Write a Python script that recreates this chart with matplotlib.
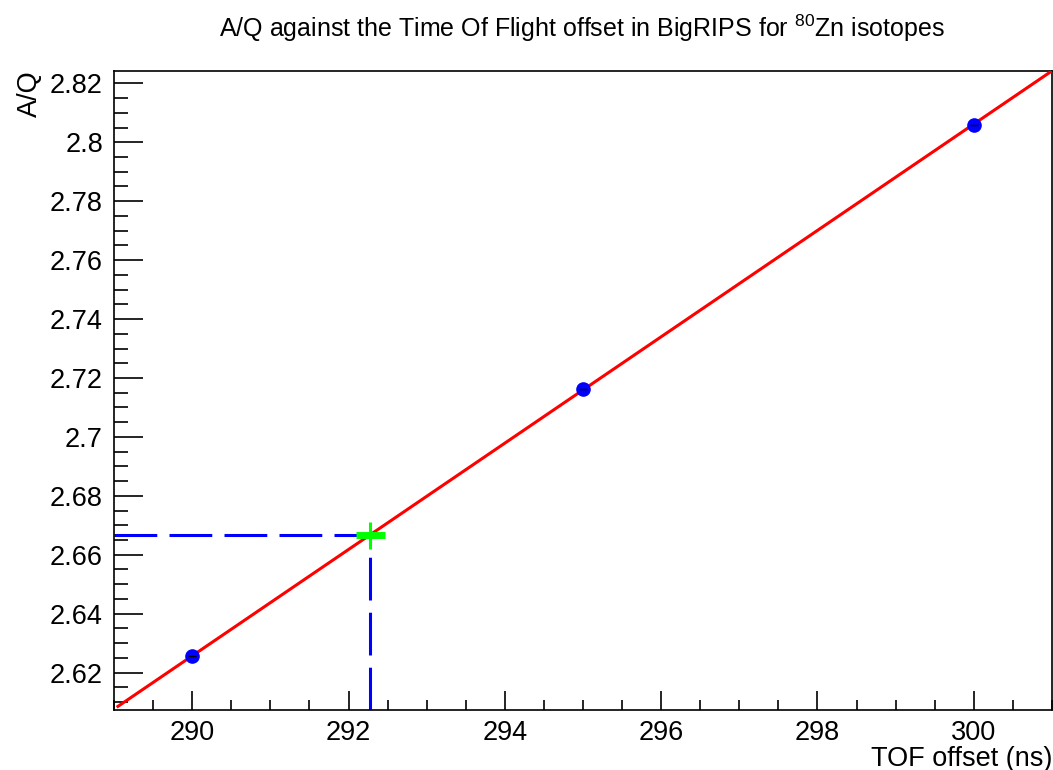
#!/usr/bin/env python3
# A/Q vs TOF offset calibration, ROOT-like look
import matplotlib
matplotlib.use("Agg")
import matplotlib.pyplot as plt
import numpy as np
from matplotlib.ticker import MultipleLocator

plt.rcParams['font.family'] = ['Liberation Sans', 'DejaVu Sans']
plt.rcParams['mathtext.fontset'] = 'custom'
plt.rcParams['mathtext.rm'] = 'Liberation Sans'
plt.rcParams['mathtext.it'] = 'Liberation Sans'

# calibration points
tof = [290.0, 295.0, 300.0]
aoq = [2.6255, 2.7163, 2.806]
tof_err = [0.05, 0.05, 0.05]

# fitted line range
fit_x = [289.05, 301.0]

# interpolated value for 80Zn
zn_tof = 292.28
zn_aoq = 2.6666
zn_tof_err = 0.19
zn_aoq_err = 0.0045

xlim = (289.0, 301.0)
ylim = (2.6073, 2.8243)

fig = plt.figure(figsize=(10.53, 7.70), dpi=100)
ax = fig.add_axes([0.1083, 0.0779, 0.8907, 0.8303])

# linear fit through the points
p = np.polyfit(tof, aoq, 1)
fx = np.array(fit_x)
ax.plot(fx, np.polyval(p, fx), color='#ff0000', lw=2.2, zorder=3)

# dashed guide lines
ax.plot([xlim[0], zn_tof], [zn_aoq, zn_aoq], color='#0000ff', lw=2.2,
        dashes=(14, 4), zorder=2)
ax.plot([zn_tof, zn_tof], [ylim[0], zn_aoq], color='#0000ff', lw=2.2,
        dashes=(14, 4), zorder=2)

# data points
ax.plot(tof, aoq, 'o', color='#0000ff', ms=9.5, zorder=4)
ax.errorbar(tof, aoq, xerr=tof_err, fmt='none', ecolor='black', elinewidth=1, zorder=5)

# green cross
ax.errorbar([zn_tof], [zn_aoq], xerr=[zn_tof_err], fmt='none', ecolor='#00ff00',
            elinewidth=5, capsize=0, zorder=6)
ax.errorbar([zn_tof], [zn_aoq], yerr=[zn_aoq_err], fmt='none', ecolor='#00ff00',
            elinewidth=2.2, capsize=0, zorder=6)

ax.set_xlim(*xlim)
ax.set_ylim(*ylim)
ax.xaxis.set_major_locator(MultipleLocator(2))
ax.xaxis.set_minor_locator(MultipleLocator(0.5))
ax.yaxis.set_major_locator(MultipleLocator(0.02))
ax.yaxis.set_minor_locator(MultipleLocator(0.005))
ax.yaxis.set_major_formatter(plt.FuncFormatter(lambda v, _: ('%.2f' % v).rstrip('0').rstrip('.')))

ax.tick_params(which='both', direction='in', top=False, right=False, labelsize=19.5, width=1.2)
ax.tick_params(axis='x', which='major', length=14, pad=7)
ax.tick_params(axis='x', which='minor', length=7)
ax.tick_params(axis='y', which='major', length=21, pad=8)
ax.tick_params(axis='y', which='minor', length=10)
for s in ax.spines.values():
    s.set_linewidth(1.2)

ax.set_xlabel('TOF offset (ns)', fontsize=19.5, loc='right', labelpad=0)
ax.set_ylabel('A/Q', fontsize=19.5, loc='top', labelpad=5)
fig.text(0.553, 0.963, r'A/Q against the Time Of Flight offset in BigRIPS for $^{80}$Zn isotopes',
         ha='center', va='center', fontsize=18)

fig.savefig('out.png', dpi=100)
